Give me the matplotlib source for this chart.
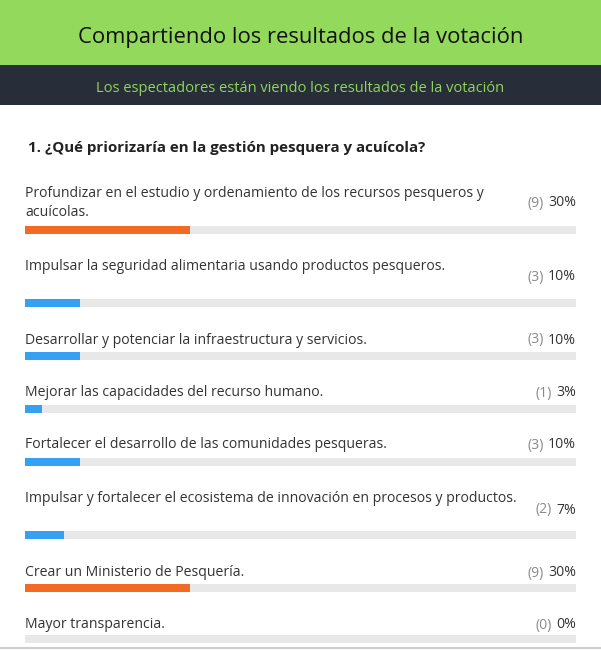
import matplotlib
matplotlib.use("Agg")
import matplotlib.pyplot as plt
from matplotlib.patches import Rectangle

plt.rcParams['font.family'] = ['Open Sans', 'DejaVu Sans']

# datos de la votacion
titulo = "Compartiendo los resultados de la votación"
subtitulo = "Los espectadores están viendo los resultados de la votación"
pregunta = "1. ¿Qué priorizaría en la gestión pesquera y acuícola?"
opciones = [
    "Profundizar en el estudio y ordenamiento de los recursos pesqueros y\nacuícolas.",
    "Impulsar la seguridad alimentaria usando productos pesqueros.",
    "Desarrollar y potenciar la infraestructura y servicios.",
    "Mejorar las capacidades del recurso humano.",
    "Fortalecer el desarrollo de las comunidades pesqueras.",
    "Impulsar y fortalecer el ecosistema de innovación en procesos y productos.",
    "Crear un Ministerio de Pesquería.",
    "Mayor transparencia.",
]
votos = [9, 3, 3, 1, 3, 2, 9, 0]
porcentajes = [30, 10, 10, 3, 10, 7, 30, 0]
colores = ["#f26a24", "#36a0f2", "#36a0f2", "#36a0f2",
           "#36a0f2", "#36a0f2", "#f26a24", "#36a0f2"]

# posiciones en pixeles (layout)
y_label = [203, 267, 340, 393, 445, 499, 573, 625]
y_pct = [203, 277, 340, 393, 445, 510, 573, 625]
y_bar = [230, 303, 356, 409, 462, 535, 588, 639]
W, H = 601, 650
x0, x1 = 25, 576

fig = plt.figure(figsize=(W / 100, H / 100), dpi=100)
ax = fig.add_axes([0, 0, 1, 1])
ax.set_xlim(0, W)
ax.set_ylim(H, 0)
ax.axis('off')

# cabecera
ax.add_patch(Rectangle((0, 0), W, 65, color="#93d95b", lw=0))
ax.add_patch(Rectangle((0, 65), W, 40, color="#272e39", lw=0))
ax.text(W / 2, 38, titulo, ha='center', va='center', fontsize=15.8, color="#111111")
ax.text(W / 2, 88, subtitulo, ha='center', va='center', fontsize=10.5, color="#8fd65a")
ax.text(28, 148, pregunta, ha='left', va='center', fontsize=10.9,
        fontweight='bold', color="#222222")

# barras (eje 0-100 sobre el ancho de la pista)
axb = fig.add_axes([x0 / W, 0, (x1 - x0) / W, 1])
axb.set_xlim(0, 100)
axb.set_ylim(H, 0)
axb.axis('off')
axb.barh(y_bar, [100] * len(y_bar), height=8, color="#e8e8e8", lw=0)
axb.barh(y_bar, porcentajes, height=8, color=colores, lw=0)

r = fig.canvas.get_renderer()
for i, txt in enumerate(opciones):
    ax.text(x0, y_label[i], txt, ha='left', va='center', fontsize=10.1,
            color="#333333", linespacing=1.4)
    t = ax.text(x1, y_pct[i], f"{porcentajes[i]}%", ha='right', va='center',
                fontsize=10.1, color="#333333")
    ancho = t.get_window_extent(r).width
    ax.text(x1 - ancho - 4, y_pct[i], f"({votos[i]})",
            ha='right', va='center', fontsize=10.1, color="#8a8a8a")

ax.plot([0, W], [648, 648], color="#cfcfcf", lw=1.5)

fig.savefig("out.png", dpi=100)
